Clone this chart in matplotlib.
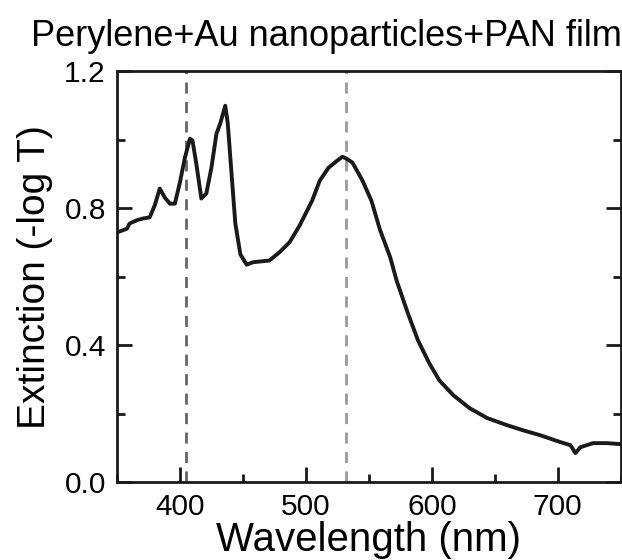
import matplotlib
matplotlib.use("Agg")
import matplotlib.pyplot as plt
from matplotlib.ticker import MultipleLocator

plt.rcParams['font.family'] = ['Liberation Sans', 'DejaVu Sans']

# spectrum
wavelength = [350, 358, 360, 366, 371, 376, 380, 384, 388, 392, 396, 400, 404,
              408, 410, 413, 417, 421, 425, 429, 432, 436, 438, 441, 444, 448,
              453, 458, 463, 471, 479, 487, 495, 505, 511, 518, 525, 529, 532,
              537, 545, 552, 559, 567, 572, 581, 589, 598, 606, 617, 630, 644,
              660, 672, 686, 702, 710, 714, 718, 728, 739, 750]
extinction = [0.729, 0.74, 0.755, 0.765, 0.77, 0.773, 0.808, 0.857, 0.831,
              0.813, 0.813, 0.875, 0.948, 1.003, 0.997, 0.93, 0.828, 0.843,
              0.918, 1.017, 1.047, 1.099, 1.047, 0.90, 0.755, 0.665, 0.635,
              0.642, 0.644, 0.647, 0.671, 0.70, 0.749, 0.822, 0.880, 0.918,
              0.939, 0.950, 0.945, 0.933, 0.880, 0.822, 0.735, 0.656, 0.589,
              0.493, 0.414, 0.347, 0.297, 0.254, 0.216, 0.187, 0.166, 0.152,
              0.137, 0.117, 0.108, 0.085, 0.102, 0.114, 0.114, 0.111]
marker_lines = [405, 532]
marker_colors = ["#666666", "#9a9a9a"]

fig = plt.figure(figsize=(6.22, 5.6), dpi=100)
ax = fig.add_axes([0.188, 0.139, 0.81, 0.734])

for x, c in zip(marker_lines, marker_colors):
    ax.axvline(x, color=c, lw=2, ls=(0, (4, 3)))
ax.plot(wavelength, extinction, color="#1a1a1a", lw=2.8)

ax.set_xlim(350, 750)
ax.set_ylim(0, 1.2)
ax.xaxis.set_major_locator(MultipleLocator(100))
ax.xaxis.set_minor_locator(MultipleLocator(50))
ax.yaxis.set_major_locator(MultipleLocator(0.4))
ax.yaxis.set_minor_locator(MultipleLocator(0.2))
ax.yaxis.set_major_formatter(plt.FormatStrFormatter("%.1f"))
ax.tick_params(which="both", direction="in", width=2, labelsize=21.5,
               right=True, top=False, color="#1a1a1a")
ax.tick_params(which="major", length=11, pad=8)
ax.tick_params(which="minor", length=6)
for s in ax.spines.values():
    s.set_linewidth(2)
    s.set_color("#1a1a1a")

ax.set_xlabel("Wavelength (nm)", fontsize=29, labelpad=0)
ax.set_ylabel("Extinction (-log T)", fontsize=28, labelpad=8)
ax.set_title("Perylene+Au nanoparticles+PAN film", fontsize=26, pad=18, x=0.415)

fig.savefig("out.png", dpi=100)
